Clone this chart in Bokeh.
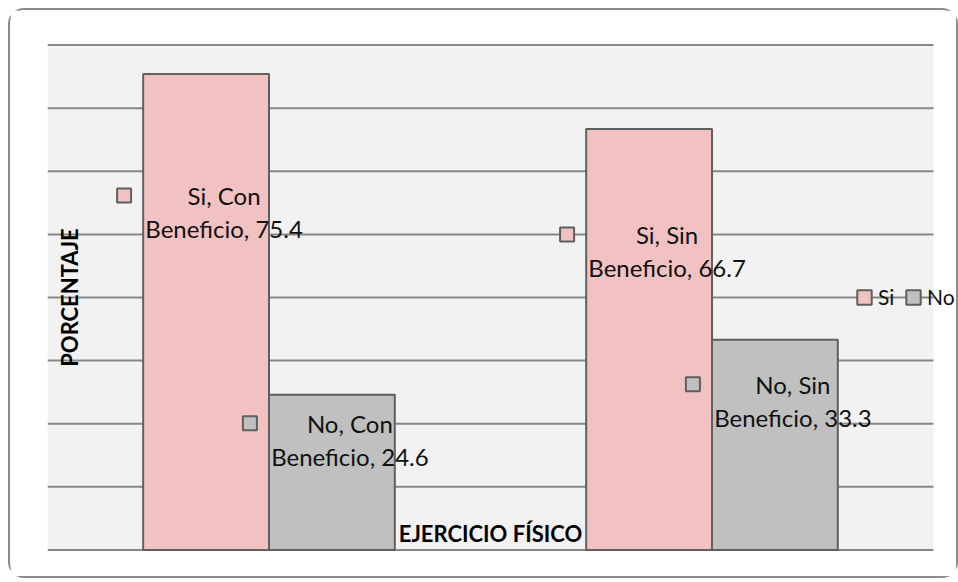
import math
from bokeh.plotting import figure
from bokeh.models import Range1d, Label, Legend, LegendItem, ColumnDataSource
from bokeh.core.properties import value
from bokeh.embed import file_html
from bokeh.resources import INLINE

# ---- data ----
groups = ["Con Beneficio", "Sin Beneficio"]
series = ["Si", "No"]
si_values = [75.4, 66.7]
no_values = [24.6, 33.3]
y_ticks = [0, 10, 20, 30, 40, 50, 60, 70, 80]

colors = {"Si": "#f2c2c2", "No": "#c0c0c0"}
FONT = "Lato"

W, H = 946, 566
EXTRA = 4  # the css border is included in the canvas size
ML, MR, MT, MB = 37, 0, 33, 29
frame_w = W + EXTRA - ML - MR
frame_h = H + EXTRA - MT - MB
plot_w = 886  # width of the grey plot area in px
px_x = plot_w / len(groups)
x_end = len(groups) + (frame_w - plot_w) / px_x
y_pad = 0.25

p = figure(width=W, height=H, output_backend="svg", toolbar_location=None,
           x_range=Range1d(0, x_end), y_range=Range1d(-y_pad, 80 + y_pad),
           min_border_left=ML, min_border_right=MR, min_border_top=MT, min_border_bottom=MB)
p.styles = {"border": "2px solid #8c8c8c", "border-radius": "16px",
            "box-sizing": "content-box",
            "margin-left": "8px", "margin-top": "8px"}
p.background_fill_color = "white"
p.border_fill_color = "white"
p.outline_line_color = None
p.xaxis.visible = False
p.yaxis.visible = False
p.xgrid.visible = False
p.ygrid.visible = False

px_y = frame_h / (80 + 2 * y_pad)

# grey plot area and horizontal gridlines
p.quad(left=[0], right=[len(groups)], bottom=[0], top=[max(y_ticks)],
       fill_color="#f2f2f2", line_color=None)
p.segment(x0=[0] * len(y_ticks), x1=[len(groups)] * len(y_ticks), y0=y_ticks, y1=y_ticks,
          line_color="#878787", line_width=2)

bar_w = 0.284
renderers = {}
for s, vals, off in (("Si", si_values, -bar_w / 2), ("No", no_values, bar_w / 2)):
    xs = [i + 0.5 + off for i in range(len(groups))]
    src = ColumnDataSource(dict(x=xs, top=vals))
    r = p.vbar(x="x", top="top", width=bar_w, bottom=0, source=src,
               fill_color=colors[s], line_color="#5f5f5f", line_width=2)
    renderers[s] = r

# data labels
for s, vals, off in (("Si", si_values, -bar_w / 2), ("No", no_values, bar_w / 2)):
    xs = [i + 0.5 + off for i in range(len(groups))]
    ys = [v * 0.71 for v in vals]
    texts = [f"{s}, {g.split()[0]}\n{g.split()[1]}, {v}" for g, v in zip(groups, vals)]
    src = ColumnDataSource(dict(x=xs, y=ys, t=texts))
    p.text(x="x", y="y", text="t", source=src, x_offset=18,
           text_align="center", text_baseline="middle", text_line_height=1.15,
           text_font=value(FONT), text_font_size="24px", text_color="#111111")
    mx = [x + (18 - 100) / px_x for x in xs]
    my = [y + 16.5 / px_y for y in ys]
    p.scatter(x=mx, y=my, marker="square", size=14, fill_color=colors[s],
              line_color="#5f5f5f", line_width=2)

# axis titles
p.add_layout(Label(x=len(groups) / 2, y=0, y_offset=16, text="EJERCICIO FÍSICO",
                   text_align="center", text_baseline="middle",
                   text_font=FONT, text_font_style="bold", text_font_size="22px",
                   text_color="#000000"))
p.add_layout(Label(x=0, y=40, x_offset=22, text="PORCENTAJE", angle=math.pi / 2,
                   text_align="center", text_baseline="middle",
                   text_font=FONT, text_font_style="bold", text_font_size="22px",
                   text_color="#000000"))

legend = Legend(items=[LegendItem(label=s, renderers=[renderers[s]]) for s in series],
                orientation="horizontal", location=(808, int(40 * px_y + y_pad * px_y) - 12),
                background_fill_alpha=0, border_line_color=None,
                glyph_width=18, glyph_height=18, label_standoff=5, spacing=6,
                padding=0, margin=0, label_text_font=FONT, label_text_font_size="21px",
                label_height=20, label_text_color="#111111")
p.add_layout(legend, "center")

open("out.html", "w").write(file_html(p, INLINE))
